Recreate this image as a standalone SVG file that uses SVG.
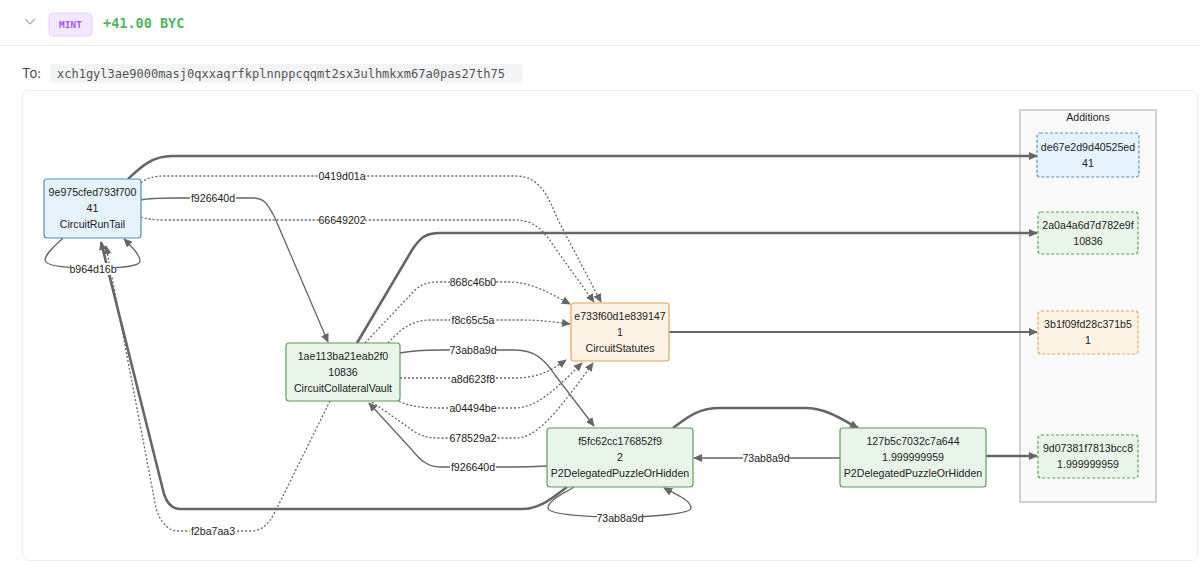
<svg xmlns="http://www.w3.org/2000/svg" width="1200" height="566" viewBox="0 0 1200 566">
<style>
.nt{font-family:"Liberation Sans",Arial,sans-serif;font-size:10.6px;fill:#222;text-anchor:middle}
.lb{font-family:"Liberation Sans",Arial,sans-serif;font-size:10.6px;fill:#222;text-anchor:middle}
.lbg{fill:#fff}
.e{fill:none;stroke:#666;stroke-width:1.3}
.d{fill:none;stroke:#666;stroke-width:1.3;stroke-dasharray:2,2}
.t{fill:none;stroke:#666;stroke-width:2.6}
.blue{fill:#e6f2fc;stroke:#4f8fcb;stroke-width:1.2}
.green{fill:#e9f5e9;stroke:#5f9c5f;stroke-width:1.2}
.orange{fill:#fdf3e4;stroke:#e9a157;stroke-width:1.2}
.dblue{fill:#e6f2fc;stroke:#4f8fcb;stroke-width:1.2;stroke-dasharray:3,2}
.dgreen{fill:#e9f5e9;stroke:#5f9c5f;stroke-width:1.2;stroke-dasharray:3,2}
.dorange{fill:#fdf3e4;stroke:#e9a157;stroke-width:1.2;stroke-dasharray:3,2}
</style>
<defs>
<marker id="arr" viewBox="0 0 10 10" refX="9" refY="5" markerWidth="9" markerHeight="9" markerUnits="userSpaceOnUse" orient="auto">
<path d="M0,0.5 L10,5 L0,9.5 z" fill="#666"/>
</marker>
</defs>
<rect x="0" y="0" width="1200" height="566" fill="#fff"/>
<g id="header">
<path d="M25,19 L30,24 L35,19" fill="none" stroke="#aaa" stroke-width="1.2"/>
<rect x="49" y="13" width="43" height="23" rx="4" fill="#f3e8ff" stroke="#e6d2fb"/>
<text x="70.5" y="28" font-family="'DejaVu Sans Mono',monospace" font-size="9.5" font-weight="bold" fill="#a855f7" text-anchor="middle">MINT</text>
<text x="103" y="28" font-family="'DejaVu Sans Mono',monospace" font-size="13.5" font-weight="bold" fill="#4fb760">+41.00 BYC</text>
<line x1="0" y1="45.5" x2="1200" y2="45.5" stroke="#eee"/>
<text x="22" y="78" font-family="Inter,'Liberation Sans',sans-serif" font-size="13" fill="#444">To:</text>
<rect x="50" y="64" width="473" height="19" rx="3" fill="#f3f4f6"/>
<text x="57" y="77.5" font-family="'DejaVu Sans Mono',monospace" font-size="12" fill="#555">xch1gyl3ae9000masj0qxxaqrfkplnnppcqqmt2sx3ulhmkxm67a0pas27th75</text>
</g>
<rect x="22.5" y="90.5" width="1175" height="470" rx="6" fill="#fff" stroke="#eee"/>
<g id="additions">
<rect x="1020" y="110" width="136" height="392" fill="#fafafa" stroke="#aaa"/>
<text class="nt" x="1088" y="121">Additions</text>
</g>
<g id="connectors">
<path class="t" d="M128,179 C138,170 150,156 172,156 L1037,156" marker-end="url(#arr)"/>
<path class="d" d="M141,183 Q148,176 165,176 L515,176 C540,176 548,196 558,220 L601,302" marker-end="url(#arr)"/>
<path class="d" d="M141,217 Q148,220 165,220 L515,220 C535,220 545,232 555,248 L594,302" marker-end="url(#arr)"/>
<path class="e" d="M141,200 C150,198 160,198 175,198 L253,198 C265,198 268,205 275,218 L328,342" marker-end="url(#arr)"/>
<path class="e" d="M63,238 C55,246 45,254 45,260 C45,267 70,268 93,268 C118,268 140,267 140,261 C140,255 132,247 124,239" marker-end="url(#arr)"/>
<path class="t" d="M567,487 C552,498 540,509 522,509 L180,509 C172,509 167,503 164,494 L101,242" marker-end="url(#arr)"/>
<path class="d" d="M330,401 L275,512 C268,525 262,531 250,531 L178,531 C168,531 160,522 156,508 L106,246" marker-end="url(#arr)"/>
<path class="t" d="M357,343 L412,250 C420,238 425,233 440,233 L1037,233" marker-end="url(#arr)"/>
<path class="d" d="M365,343 L415,290 C422,284 428,282 440,282 L510,282 C530,282 550,293 570,304" marker-end="url(#arr)"/>
<path class="d" d="M388,343 C398,332 410,320 430,320 L520,320 C540,320 555,322 570,324" marker-end="url(#arr)"/>
<path class="e" d="M400,353 C415,350 425,350 440,350 L515,350 C535,350 545,360 555,375 L594,426" marker-end="url(#arr)"/>
<path class="d" d="M400,378 L515,378 C538,378 552,370 566,360" marker-end="url(#arr)"/>
<path class="d" d="M395,400 C410,406 420,408 440,408 L515,408 C535,408 552,393 582,363" marker-end="url(#arr)"/>
<path class="d" d="M372,402 L415,432 C422,436 428,438 440,438 L515,438 C535,438 552,420 593,363" marker-end="url(#arr)"/>
<path class="e" d="M547,466 C530,467 520,467 510,467 L440,467 C428,467 420,460 412,450 L369,403" marker-end="url(#arr)"/>
<path class="t" d="M673,428 C690,415 700,408 720,408 L805,408 C825,408 840,418 858,428" marker-end="url(#arr)"/>
<path class="e" d="M840,458 L694,458" marker-end="url(#arr)"/>
<path class="e" d="M574,487 C565,493 548,500 548,508 C548,515 590,517 620,517 C650,517 691,514 691,508 C691,500 675,494 664,488" marker-end="url(#arr)"/>
<path class="t" style="stroke-width:2" d="M669,332 L1037,332" marker-end="url(#arr)"/>
<path class="t" d="M986,456 L1037,456" marker-end="url(#arr)"/>
<g id="edge-labels">
<rect class="lbg" x="319" y="170" width="46" height="12"/><text class="lb" x="342" y="180">0419d01a</text>
<rect class="lbg" x="319" y="214" width="46" height="12"/><text class="lb" x="342" y="224">66649202</text>
<rect class="lbg" x="190" y="192" width="46" height="12"/><text class="lb" x="213" y="202">f926640d</text>
<rect class="lbg" x="70" y="263" width="46" height="12"/><text class="lb" x="93" y="273">b964d16b</text>
<rect class="lbg" x="190" y="525" width="46" height="12"/><text class="lb" x="213" y="535">f2ba7aa3</text>
<rect class="lbg" x="450" y="276" width="46" height="12"/><text class="lb" x="473" y="286">868c46b0</text>
<rect class="lbg" x="450" y="314" width="46" height="12"/><text class="lb" x="473" y="324">f8c65c5a</text>
<rect class="lbg" x="450" y="344" width="46" height="12"/><text class="lb" x="473" y="354">73ab8a9d</text>
<rect class="lbg" x="450" y="373" width="46" height="12"/><text class="lb" x="473" y="383">a8d623f8</text>
<rect class="lbg" x="450" y="402" width="46" height="12"/><text class="lb" x="473" y="412">a04494be</text>
<rect class="lbg" x="450" y="432" width="46" height="12"/><text class="lb" x="473" y="442">678529a2</text>
<rect class="lbg" x="450" y="461" width="46" height="12"/><text class="lb" x="473" y="471">f926640d</text>
<rect class="lbg" x="743" y="452" width="46" height="12"/><text class="lb" x="766" y="462">73ab8a9d</text>
<rect class="lbg" x="597" y="512" width="46" height="12"/><text class="lb" x="620" y="522">73ab8a9d</text>
</g>
</g>
<g id="n9e975">
<rect class="blue" x="44" y="179" width="97" height="59" rx="3"/>
<text class="nt" x="92.5" y="196">9e975cfed793f700</text>
<text class="nt" x="92.5" y="212">41</text>
<text class="nt" x="92.5" y="228">CircuitRunTail</text>
</g>
<g id="n1ae113">
<rect class="green" x="286" y="343" width="114" height="58" rx="3"/>
<text class="nt" x="343" y="359.5">1ae113ba21eab2f0</text>
<text class="nt" x="343" y="375.5">10836</text>
<text class="nt" x="343" y="391.5">CircuitCollateralVault</text>
</g>
<g id="ne733">
<rect class="orange" x="571" y="303" width="98" height="58" rx="3"/>
<text class="nt" x="620" y="319.5">e733f60d1e839147</text>
<text class="nt" x="620" y="335.5">1</text>
<text class="nt" x="620" y="351.5">CircuitStatutes</text>
</g>
<g id="nf5fc">
<rect class="green" x="547" y="428" width="146" height="59" rx="3"/>
<text class="nt" x="620" y="445">f5fc62cc176852f9</text>
<text class="nt" x="620" y="461">2</text>
<text class="nt" x="620" y="477">P2DelegatedPuzzleOrHidden</text>
</g>
<g id="n127b">
<rect class="green" x="840" y="428" width="146" height="59" rx="3"/>
<text class="nt" x="913" y="445">127b5c7032c7a644</text>
<text class="nt" x="913" y="461">1.999999959</text>
<text class="nt" x="913" y="477">P2DelegatedPuzzleOrHidden</text>
</g>
<g id="nde67">
<rect class="dblue" x="1037" y="133" width="102" height="44" rx="3"/>
<text class="nt" x="1088" y="150.5">de67e2d9d40525ed</text>
<text class="nt" x="1088" y="166.5">41</text>
</g>
<g id="n2a0a">
<rect class="dgreen" x="1038" y="212" width="100" height="42" rx="3"/>
<text class="nt" x="1088" y="228.5">2a0a4a6d7d782e9f</text>
<text class="nt" x="1088" y="244.5">10836</text>
</g>
<g id="n3b1f">
<rect class="dorange" x="1038" y="311" width="100" height="43" rx="3"/>
<text class="nt" x="1088" y="328">3b1f09fd28c371b5</text>
<text class="nt" x="1088" y="344">1</text>
</g>
<g id="n9d07">
<rect class="dgreen" x="1038" y="435" width="100" height="43" rx="3"/>
<text class="nt" x="1088" y="452">9d07381f7813bcc8</text>
<text class="nt" x="1088" y="468">1.999999959</text>
</g>
</svg>
